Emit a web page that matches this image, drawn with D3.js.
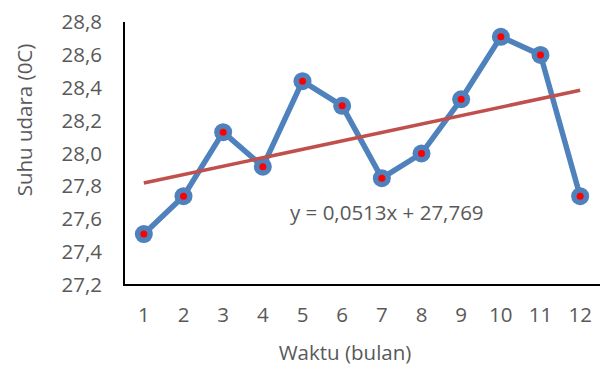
<!DOCTYPE html>
<html lang="en">

<body style="margin:0">
    <script type='text/javascript' src='https://d3js.org/d3.v7.min.js'></script>
    <script>

        // data
        var months = [1, 2, 3, 4, 5, 6, 7, 8, 9, 10, 11, 12];
        var suhu = [27.51, 27.74, 28.13, 27.92, 28.44, 28.29, 27.85, 28.00, 28.33, 28.71, 28.60, 27.74];
        var yTicks = [27.2, 27.4, 27.6, 27.8, 28.0, 28.2, 28.4, 28.6, 28.8];
        var trendSlope = 0.0513, trendIntercept = 27.769;

        const width = 600, height = 365;
        const font = "'Open Sans', sans-serif";
        const fs = "20.5px";
        const grey = "#595959";

        const svg = d3.select("body")
            .append("svg")
            .attr('width', width)
            .attr('height', height)
            .style('font-family', font);

        // scales
        const x = d3.scaleBand()
            .domain(months)
            .range([124, 600]);

        const y = d3.scaleLinear()
            .domain([27.2, 28.8])
            .range([285, 22]);

        const cx = d => x(d) + x.bandwidth() / 2;

        // y axis labels
        const yAxis = svg.append("g")
            .attr("transform", "translate(124,0)")
            .call(d3.axisLeft(y).tickValues(yTicks).tickSize(0).tickPadding(22)
                .tickFormat(d => d3.format(".1f")(d).replace(".", ",")));
        yAxis.select(".domain").remove();
        yAxis.selectAll("text")
            .attr("fill", grey)
            .style("font-size", fs)
            .style("font-family", font);

        // x axis labels
        const xAxis = svg.append("g")
            .attr("transform", "translate(0,285)")
            .call(d3.axisBottom(x).tickSize(0).tickPadding(22));
        xAxis.select(".domain").remove();
        xAxis.selectAll("text")
            .attr("fill", grey)
            .style("font-size", fs)
            .style("font-family", font);

        // axis lines
        svg.append("path")
            .attr("d", d3.line()([[124, y(28.8)], [124, 285], [600, 285]]))
            .attr("fill", "none")
            .attr("stroke", "#000")
            .attr("stroke-width", 2);

        // trend line end points
        const trend = [months[0], months[months.length - 1]]
            .map(m => [cx(m), y(trendSlope * m + trendIntercept)]);

        // data line
        svg.append("path")
            .datum(suhu)
            .attr("fill", "none")
            .attr("stroke", "#4F81BD")
            .attr("stroke-width", 5.5)
            .attr("stroke-linejoin", "round")
            .attr("d", d3.line()
                .x((d, i) => cx(months[i]))
                .y(d => y(d)));

        svg.selectAll(".mk")
            .data(suhu)
            .enter()
            .append("circle")
            .attr("cx", (d, i) => cx(months[i]))
            .attr("cy", d => y(d))
            .attr("r", 9)
            .attr("fill", "#4F81BD");

        svg.selectAll(".dot")
            .data(suhu)
            .enter()
            .append("circle")
            .attr("cx", (d, i) => cx(months[i]))
            .attr("cy", d => y(d))
            .attr("r", 3.5)
            .attr("fill", "#FF0000");

        svg.append("path")
            .attr("d", d3.line()(trend))
            .attr("stroke", "#C0504D")
            .attr("stroke-width", 3.5);

        // equation
        svg.append("text")
            .attr("x", 290)
            .attr("y", 220)
            .attr("fill", grey)
            .style("font-size", fs)
            .text("y = 0,0513x + 27,769");

        // axis titles
        svg.append("text")
            .attr("transform", "translate(32,120) rotate(-90)")
            .attr("text-anchor", "middle")
            .attr("fill", grey)
            .style("font-size", fs)
            .text("Suhu udara (0C)");

        svg.append("text")
            .attr("x", 345)
            .attr("y", 360)
            .attr("text-anchor", "middle")
            .attr("fill", grey)
            .style("font-size", fs)
            .text("Waktu (bulan)");

    </script>

</body>

</html>
